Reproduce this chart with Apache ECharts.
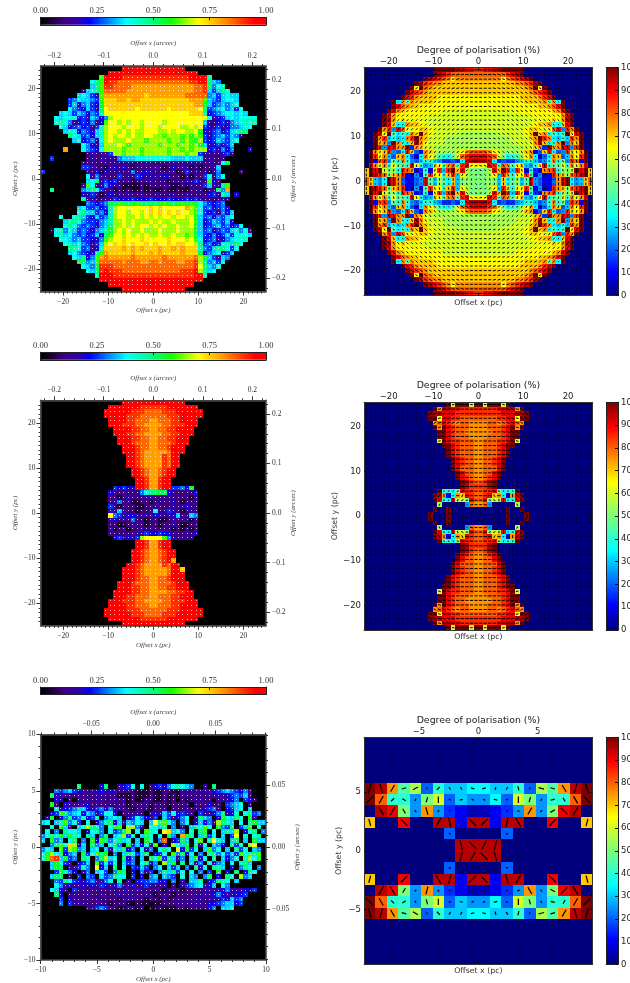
<!DOCTYPE html>
<html><head><meta charset="utf-8">
<style>html,body{margin:0;padding:0;background:#fff}#c{width:630px;height:983px}</style>
<script src="https://cdn.jsdelivr.net/npm/echarts@6/dist/echarts.min.js"></script></head>
<body><div id="c"></div>
<script>
// Cell codes: '.' empty, then 0-9 a-k = 0, 5, 10 ... 100 per cent of the colour scale.
const panel1Rows = [
"..................kkkkkkk kkkkkkk..................",
"...............jkkkkkkkkk kkkkkkkkkj...............",
".............cjkjjiiiiiii iiiiiiiijjkk9............",
"...........8acjiihhhhhhhh hhhhhhhhiijka76..........",
"...........7aciihhhhggggg ggggggggghhia689.........",
".........378achhhhhgggggg ggggggggghhi757a8........",
"........78753cgggggggggfg ggggggghhhhh6757877......",
"......5687765cfffggfggfff ffffffffgggc7657887......",
"......5746754bfffffffffff fffffffffggb7567678......",
"......8654753aeffffffefff fffeffffffea56786758.....",
"....78757646 59eeeeeeeeeee eeeeeeeefff9456788787....",
"...87888453764 6deeeeeeeeee eeeeeeeeeee83457878898...",
"...89863454624 ceededeedee eedeeeeeeee732453678989..",
"....874564525 9deeedeeedee edeeeeddede54352466788...",
".....79846547 9deedededdee eddedeeddeb4356457 9aa....",
"......a875647 9dedeededdee ddcdddcdbdc535675762.....",
".......784563 8dedddedddcd dddcddcdcbd54576578......",
".........8643 7dddedcddddd dcdddcddcdb7345357.......",
".....g...8654 8ddddcdddcdd dddcddcdcddd453646...4...",
"..........23232 5ddcdddcdd dddcdddcdd53232453.......",
"..5.......232333367778888 88887778777 23323.........",
".........3232232323322232 222323223232322 8b........",
".........55322134242122 2 232124233131223 7.........",
"5.........32414 3232362342 3222312523 2313 6....2......",
"..........83632 2252325434 2343221313 25826 8.........",
"..........78a35 4522312232 3221232425 32c42 ..........",
".........3c823 64 231111212 222311213 235723 ac........",
"..a......67a85 2 3 121211212 112112112 2312 3a6g ........",
".........43531 24 232322322 232232232 232453 97 .4......",
".........a3 3223 3 544454445 444544454 532323 32 ........",
"..........65456 b acbabcaab abcbabcbc b 8 65456 .........",
"........7855645 9 deeeeeeef efeeeeegd c8 564564 ........",
"........8a77564 9 deedeedef efefefeed c8 5453647 .......",
"....8..8a754756 9 deeddeded edeedeede b7 5646578 .......",
".....79a8655467 9 ddededdde deddeddde c7 4576574 .......",
".....8a86565467 a ddededeed ededdedde b7 45675645 8.....",
"..1896875654679 b dededdedd dedddeddd b7 56456578682...",
"...89786564574a c eedededed deddeddcd b7 54645758987...",
"....8876755436c d eefeeefee eeefeeede c8 4563467889....",
".....897865357d e fefefeefe feefeffee da 5645897a8.....",
"......a9856349f f ffgfgfgff fgffgfgff f9 6579a858......",
"......786544acg f ffffgfffg fgffffgff fb 4678357.......",
".......87a46cgh g gggghgggg gghgggggg hd b75376........",
"........ba67chh h hhghhhggh hghhhgghh id 96758.........",
".........876biii hhhhhhhhh hhhhhhhhh ie a768..........",
"..........87aiji iihhhhhhh hhhhhhiii jd 978...........",
"............9jjj iiiiiiiii iiiiiiiii jk9.............",
".............kkk jjjjjjjjj jjjjjjjjj kk..............",
"...............k kkkkkkkkk kkkkkkkkk ................",
"..................kkkkkkk kkkkkkk.................."
];
const panel3Rows = [
"kkkjjjjjjjjkkk","kkkjjjjiiiiiijjjjkkk","kkkjjjiiihhhhiiijjjkkk","kkkjjiiihhhhhhiiijjkkk",
"kkjjiihhhgghhhiijjkk","kkjiiihhgggghhiiijkk","kkjjiihhgghhiijjkk","kkjiihhgggghhiijkk",
"kkjiihhgghhiijkk","kkjihhhgghhhijkk","kjjihhgghhijjk","kjjihggggghjjk",
"kjihggggihjk","kjihggggihjk","kkihggggihkk","kjihgghijk","kjihgghijk","kjiggijk","kjiggijk",
"54544kjiggijk5564b",
"422232268aaba4322224","22123222332223222213","23623112212322421222","52122211223222323423",
"32732212238235331232","e6534432324423473276","34232622122112322313","22112322122122321122",
"31221223332232121312","22222233544544322324",
"453435deeeec632323",
"kkiggikk","kkiggikk","kjihgghijk","kjihgghijk",".kjihgghijg","kjihggggihjk",
"kkjihggggghjjf","kkjihggggghjjk","kjjihhgghhijjk","kkjihhhgghhhijkk","kkjiihhgghhiijkk",
"kkjjiihhgggghhiijj","kkjiihhhgghhhiijkk","kkjiiihhgggghhiiijkk","kkjjiihhhgghhhiijjkk",
"kkkjjiiihhhhhhiiijjkkk","kkkjjjiiihhhhiiijjjkkk","kkkjjjjiiiiiijjjjkkk","kkkjjjjjjjjkkk"
];
const panel5FirstRow = 11;
const panel5Rows = [
"........a....4a..3458.8.2454689876..3.a...........",
"...65675432344343222211121122113223332456765463...",
"..a33322323233222111211121121212323223332456572...",
"...43.2.3222332232312.12211212.2132322.33346.542..",
"..b2.4323342322322312223122212222.322422.5678.3...",
"...9445677445646332212221223.22232234563.4578.7...",
"..45ca67847635884.22332.3437584533.52246a349.8a56.",
".3b.46a568459.6787.3586425.752468.2a76.4b87a8.b3..",
"78.79c685.8.469a4727687.7e9c86.68.47463da97.8.9b77",
"..8.b73.78da96.8bc.dd63.8879.6.2.7a8c8.b65a.57c.9.",
".8.6.a887.4896.856ad.8.c98.ef786.9.ac.8.7a7d.48a.6",
"68a9b7b98.a7.6a.78d59.7a8.8.a6.gb9.7a58.7.5e.9.8a.",
"7.b67.8a.6.b4ca68a78.7.b8.6h.45a7.8c.9e87.7a.7.b77",
"..6ac8fd47.a67.8a6.b57482c.4.d87b.a38.764.a59.de..",
"687.c5dc67.78.7397a46.836.8a8.e4b58.7c68.7.a58.76.",
"8bd8a467.b58cab.6.7a857a.458.c6a48.6.9a68575c89ac.",
"8chi7b56.a8.6ad78.a46.7.a8c5a736.7b48.9.7468.9d8b.",
"..7b853.457.c5859.756.8a46.d7b.a.736.8367.8.9a7...",
"..7ba.32596.e47.a.8.5475.68.757.6.a38.a97.4.6a8.6.",
"...5b964.36.785.6ba.4.635.697a58.8.6.5.b.4.a.4a8..",
"..7aa.2.5.65.756a88.5.4.67.765.8.76.6a.4.a8.d67...",
"...65a8543563368.9.3.4556644.6.3.779.45a98.7......",
"...8634234343542462342352323.2.35678347.86........",
"..8743.52322322322332332232123212222333346433445..",
"...a4.2322322322332332232123212222333346433445....",
"....5.43222232222132322122121232323323235 4756....",
"....6.53332232212231.211.11222323233244567745.....",
"..........2356522113213.113111221322246.778......."
];
const panel2ValueRows = [
"kkkkkjjiih","kjihgggggg","kjihgfdfffff","kjhgffeeeeeeee","kdkgfeeeeeeeeee","kihgfeeeeeeeeeee",
"kihfeeeeddddddddd","k7f9feeeedddddddddd","kigfeeddddddddddddd","kifeddddddddcccccccc",
"kifdddddddccccccccccc","kjfdedcdccccccccccccc","kie78feeddccccccccccc","kfh5igdcdeedcccccccccc",
"kidk9797fekedcccccc bbbb","kfh6867fhkfeccccbbbbbbb","kef5kf87ejfdcccbbbbbbbb","kh5iiffj3feccbbbbbbbbbb",
"kfdeh547he42fecbbbbcdfgg","khdf64ef7427fdb987acghii","k2gh5a8f8546886533437ijj","ifcf8da98id856ed9fg9hidd",
"ekikcab8hgf2382dh6hkeibaa","ekjhgaefh21529hdd8eh6dbaa","ge657kif42245i96b97e6abaa"
];
// Angle codes: a=0 deg, b=15 ... l=165 deg from the x axis.
const panel2AngleRows = [
"bbbbbbbaaa","bbbbbbbaaa","cccbbbbbbaaa","cccccbbbbbbaaa","cccccccbbbbbaaa","dcccccccbbbbbaaa",
"dddccccccbbbbbbaa","ddddddccccccbbbbbaa","ddddddccccccbbbbbaa","ddddddddccccccbbbbaa",
"eeddddddddcccccbbbbaa","eeeddddddddccccbbbbaa","eeeeeddddddcccccbbbaa","eeeeeeeddddddccccbbbaa",
"eeeeeeeeeddddddccccbbba","eeeeeeeeeeedddddcccbbba","fffeeeeeeeeedddddcccbba","fffffeeeeeeeeddddcccbba",
"fffffffffeeeeeeedddccbba","fffffffffffeeeeeedddccba","fffffffffffffeeeeedddcba","ffffffffffffffffeeeddccb",
"ggggggfffffffffffffeeedcb","ggggggggggggggfffffffeedb","gggggggggggggggggggggfffd"
];
const panel4ValueRows = [
"kckkkck","kfjjiihhhh","kjjiiihhhhh","kkdiihhgggg","fgihgfggff","kfkihgggff","kkihggfff","kkihgggff","ckihhgggf",
"kkihgggf","kihgggf","kihgggf","kihggf","kihggf","kigggf","kiggf","kihgf","kjhg","kjhh",
"k887aihhg","kjf27feihg","ki87ibcaig","b.....5gf","k..k......","k...k......"
];
const panel4AngleRows = [
"bbaaaaa","cbbbaaaaaa","ccbbbbaaaaa","ccbbbbaaaaa","cbbbbbaaaa","cbbbaaaaaa","cbbbaaaaa","bbbaaaaaa","bbbaaaaaa",
"bbbaaaaa","bbaaaaa","baaaaaa","baaaaa","baaaaa","aaaaaa","aaaaa","aaaaa","aaaa","aaaa",
"bcbcbbaaa","cdgbaaeaaa","cdaegfcbaa","e.....cba","e..e......","e...e......"
];
const panel6ValueRows = [
"....................","....................","....................","....................",
"kjf9b4866776684b9fjk","kg885ac465574ca588gk",".jia5f53211235f5aij.","e..i..jj2jj2jj..i..e",
".......4....4.......","........jjjj........","........jjjj........",".......4....4.......",
"e..i..jj2jj2jj..i..e",".jia5f53211235f5aij.","kg885ac465574ca588gk","kjf9b4866776684b9fjk",
"....................","....................","....................","...................."
];
const panel6AngleRows = [
"aaaaaaaaaaaaaaaaaaaa","aaaaaaaaaaaaaaaaaaaa","aaaaaaaaaaaaaaaaaaaa","aaaaaaaaaaaaaaaaaaaa",
"fhebcfdiilbfehflliFh".toLowerCase(),"dedkefglbkklbgfebiij","aieijhdjdaaddledcjea","haajaaehijdefiaadaaf",
"aaaaaaakaaaabaaaaaaa","aaaaaaaahjefaaaaaaaa","aaaaaaaafejhaaaaaaaa","aaaaaaabaaaakaaaaaaa",
"faadaaifedjiheaajaah","aeiedfjdjaajjbijkdia","jijcihgblccblghileed","hfilkhjeeblhifhbbehf",
"aaaaaaaaaaaaaaaaaaaa","aaaaaaaaaaaaaaaaaaaa","aaaaaaaaaaaaaaaaaaaa","aaaaaaaaaaaaaaaaaaaa"
];
const fractionTicks = [0, 0.25, 0.5, 0.75, 1];
const percentTicks = [0,10,20,30,40,50,60,70,80,90,100];
const pcWide = [-20,-10,0,10,20];
const pcNarrow = [-10,-5,0,5,10];
const pcMid = [-5,0,5];
const arcsecWide = [-0.2,-0.1,0,0.1,0.2];
const arcsecNarrow = [-0.05,0,0.05];
const titlePol = 'Degree of polarisation (%)';

const CODES = '0123456789abcdefghijk';
const fractionStops = [[0,'#000000'],[0.05,'#1e0038'],[0.1,'#3c0080'],[0.17,'#3000b0'],[0.22,'#0000ff'],[0.3,'#0080ff'],[0.38,'#00ffff'],[0.5,'#00ff78'],[0.58,'#10ff00'],[0.7,'#ffff00'],[0.8,'#ffa000'],[0.9,'#ff3000'],[0.95,'#ff0000'],[1,'#ff0000']];
const jetStops = [[0,'#00007f'],[0.11,'#0000ff'],[0.35,'#00ffff'],[0.5,'#7cff79'],[0.65,'#ffff00'],[0.89,'#ff0000'],[1,'#7f0000']];
function hex(c){return [1,3,5].map(i=>parseInt(c.substr(i,2),16));}
function colour(stops,v){
  for(let i=1;i<stops.length;i++){ if(v<=stops[i][0]){
    const a=stops[i-1],b=stops[i],t=(v-a[0])/(b[0]-a[0]),p=hex(a[1]),q=hex(b[1]);
    return 'rgb('+p.map((x,k)=>Math.round(x+(q[k]-x)*t)).join(',')+')';
  }}
  return stops[stops.length-1][1];
}
function code(ch){const i=CODES.indexOf(ch);return i<0?null:i*0.05;}
function clean(r){return r.replace(/\s/g,'');}
function centre(r,n){r=clean(r);if(r.length>n)r=r.slice(0,n);const l=Math.floor((n-r.length)/2);return '.'.repeat(l)+r+'.'.repeat(n-r.length-l);}
function steps(a,b,s){const o=[];const n=Math.round((b-a)/s);for(let i=0;i<=n;i++)o.push(+(a+i*s).toFixed(4));return o;}
function inRange(list,a,b){return list.filter(v=>v>a&&v<b);}
function minusText(s){return String(s).replace('-','\u2212');}

const grids=[],xAxes=[],yAxes=[],series=[];
const SERIF='"Liberation Serif","DejaVu Serif",serif', SANS='"DejaVu Sans",sans-serif';

function addGrid(x,y,w,h,bg){grids.push({left:x,top:y,width:w,height:h,show:!!bg,backgroundColor:bg||'transparent',borderWidth:0,containLabel:false,outerBoundsMode:'none'});return grids.length-1;}
function axis(gi,pos,min,max,o){
  const a=Object.assign({gridIndex:gi,type:'value',position:pos,min,max,splitLine:{show:false},z:6,silent:true,axisLine:{onZero:false,show:false},axisTick:{show:false},axisLabel:{show:false}},o||{});
  ((pos==='top'||pos==='bottom')?xAxes:yAxes).push(a);
  return ((pos==='top'||pos==='bottom')?xAxes:yAxes).length-1;
}
function leftAxis(gi,pos,min,max,ticks,fmt,name,gap,len,margin){
  return axis(gi,pos,min,max,{
    axisLine:{onZero:false,show:true,lineStyle:{color:'#444',width:1.5}},
    axisTick:{show:true,length:len,customValues:ticks,lineStyle:{color:'#333',width:1}},
    axisLabel:{show:true,customValues:ticks,margin:margin,fontFamily:SERIF,fontSize:7.5,color:'#333',formatter:v=>minusText(fmt(v))},
    name:name,nameLocation:'middle',nameGap:gap,nameRotate:(pos==='left'||pos==='right')?90:0,
    nameTextStyle:{fontFamily:SERIF,fontStyle:'italic',fontSize:7,color:'#444'}
  });
}
function minorAxis(gi,pos,min,max,vals){
  return axis(gi,pos,min,max,{axisTick:{show:true,length:2,customValues:vals,lineStyle:{color:'#333',width:1}}});
}
function cellSeries(xi,yi,cells,stops,mode){
  series.push({type:'custom',coordinateSystem:'cartesian2d',xAxisIndex:xi,yAxisIndex:yi,silent:true,animation:false,progressive:0,clip:false,z:2,
    encode:{x:[0,2],y:[1,3]},data:cells,
    renderItem(params,api){
      const a=api.coord([api.value(0),api.value(1)]),b=api.coord([api.value(2),api.value(3)]);
      const v=api.value(4),ang=api.value(5);
      const x0=Math.round(a[0]),y0=Math.round(a[1]),x1=Math.round(b[0]),y1=Math.round(b[1]);
      const kids=[{type:'rect',shape:{x:x0,y:y0,width:x1-x0,height:y1-y0},style:{fill:colour(stops,v)}}];
      const cx=(a[0]+b[0])/2,cy=(a[1]+b[1])/2;
      if(mode==='dot'){
        kids.push({type:'rect',shape:{x:Math.floor(cx),y:Math.floor(cy),width:1,height:1},style:{fill:'rgba(255,255,255,0.7)'}});
      } else {
        const len=Math.max(1,(b[0]-a[0])*v*0.92)/2,t=ang*Math.PI/180;
        kids.push({type:'line',shape:{x1:cx-Math.cos(t)*len,y1:cy+Math.sin(t)*len,x2:cx+Math.cos(t)*len,y2:cy-Math.sin(t)*len},style:{stroke:'#000',lineWidth:mode==='bigline'?1.2:1}});
      }
      return {type:'group',children:kids};
    }});
}
function buildCells(rows,angleAt,xmin,xmax,ymin,ymax,n,fillEmpty){
  const dx=(xmax-xmin)/n,dy=(ymax-ymin)/n,out=[];
  rows.forEach((row,r)=>{ for(let c=0;c<n;c++){
    let v=code(row[c]);
    if(v===null){ if(!fillEmpty) continue; v=0; }
    out.push([xmin+c*dx,ymax-r*dy,xmin+(c+1)*dx,ymax-(r+1)*dy,v,angleAt?angleAt(r,c):0]);
  }});
  return out;
}
function topBar(top){
  const gi=addGrid(40.5,top,225.5,7.5);
  const xi=axis(gi,'top',0,1,{
    axisLine:{onZero:false,show:true,lineStyle:{color:'#222',width:1}},
    axisTick:{show:true,inside:true,length:3,customValues:fractionTicks,lineStyle:{color:'#222'}},
    axisLabel:{show:true,customValues:fractionTicks,margin:2,fontFamily:SERIF,fontSize:8.5,color:'#333',formatter:v=>v.toFixed(2)}});
  const yi=axis(gi,'left',0,1,{axisLine:{onZero:false,show:true,lineStyle:{color:'#222',width:1}}});
  axis(gi,'bottom',0,1,{axisLine:{onZero:false,show:true,lineStyle:{color:'#222',width:1}}});
  axis(gi,'right',0,1,{axisLine:{onZero:false,show:true,lineStyle:{color:'#222',width:1}}});
  series.push({type:'custom',coordinateSystem:'cartesian2d',xAxisIndex:xi,yAxisIndex:yi,silent:true,animation:false,z:2,encode:{x:[0,2],y:[1,3]},data:[[0,0,1,1]],
    renderItem(p,api){const a=api.coord([api.value(0),api.value(1)]),b=api.coord([api.value(2),api.value(3)]);
      return {type:'rect',shape:{x:a[0],y:b[1],width:b[0]-a[0],height:a[1]-b[1]},
        style:{fill:new echarts.graphic.LinearGradient(0,0,1,0,fractionStops.map(s=>({offset:s[0],color:s[1]})))}};}});
}
function sideBar(top,h){
  const gi=addGrid(606.3,top,11.7,h);
  const yi=axis(gi,'right',0,100,{
    axisLine:{onZero:false,show:true,lineStyle:{color:'#222',width:1}},
    axisTick:{show:true,inside:true,length:3,customValues:percentTicks,lineStyle:{color:'#111'}},
    axisLabel:{show:true,customValues:percentTicks,margin:3,fontFamily:SANS,fontSize:8.5,color:'#222',formatter:v=>String(v)}});
  const xi=axis(gi,'bottom',0,1,{axisLine:{onZero:false,show:true,lineStyle:{color:'#222',width:1}}});
  axis(gi,'top',0,1,{axisLine:{onZero:false,show:true,lineStyle:{color:'#222',width:1}}});
  axis(gi,'left',0,100,{axisLine:{onZero:false,show:true,lineStyle:{color:'#222',width:1}}});
  series.push({type:'custom',coordinateSystem:'cartesian2d',xAxisIndex:xi,yAxisIndex:yi,silent:true,animation:false,z:2,encode:{x:[0,2],y:[1,3]},data:[[0,0,1,100]],
    renderItem(p,api){const a=api.coord([api.value(0),api.value(1)]),b=api.coord([api.value(2),api.value(3)]);
      return {type:'rect',shape:{x:a[0],y:b[1],width:b[0]-a[0],height:a[1]-b[1]},
        style:{fill:new echarts.graphic.LinearGradient(0,1,0,0,jetStops.map(s=>({offset:s[0],color:s[1]})))}};}});
}
function leftPanel(top,rows,pc,pcT,arcT,arc,arcDigits,pcStep,arcStep){
  const W=225.5,H=225.5,X=40.5;
  const gi=addGrid(X,top,W,H,'#000');
  const xb=leftAxis(gi,'bottom',-pc,pc,pcT,v=>v,'Offset x (pc)',15,4,6.5);
  const yl=leftAxis(gi,'left',-pc,pc,pcT,v=>v,'Offset y (pc)',22,4,5);
  leftAxis(gi,'top',-arc,arc,arcT,v=>v.toFixed(arcDigits),'Offset x (arcsec)',19,4,6);
  leftAxis(gi,'right',-arc,arc,arcT,v=>v.toFixed(arcDigits),'Offset y (arcsec)',20,4,6);
  const g2=addGrid(X,top,W,H);
  minorAxis(g2,'bottom',-pc,pc,inRange(steps(-pc,pc,pcStep),-pc,pc));
  minorAxis(g2,'left',-pc,pc,inRange(steps(-pc,pc,pcStep),-pc,pc));
  const kk=Math.ceil(arc/arcStep);
  minorAxis(g2,'top',-arc,arc,inRange(steps(-kk*arcStep,kk*arcStep,arcStep),-arc,arc));
  minorAxis(g2,'right',-arc,arc,inRange(steps(-kk*arcStep,kk*arcStep,arcStep),-arc,arc));
  cellSeries(xb,yl,buildCells(rows,null,-pc,pc,-pc,pc,50,false),fractionStops,'dot');
}
function rightPanel(top,h,rows,angleAt,half,ticks,n,mode){
  const X=364,W=228.7;
  const gi=addGrid(X,top,W,h,'#00007f');
  const mk=(pos,labels,o)=>axis(gi,pos,-half,half,Object.assign({
    axisLine:{onZero:false,show:true,lineStyle:{color:'#333',width:1}},
    axisTick:{show:true,inside:true,length:3,customValues:ticks,lineStyle:{color:'#111'}},
    axisLabel:{show:labels,customValues:ticks,margin:labels&&pos==='top'?1.5:3,fontFamily:SANS,fontSize:8.5,color:'#222',formatter:v=>minusText(v)}},o||{}));
  const nameStyle={fontFamily:SANS,fontSize:7.8,color:'#333'};
  const xb=mk('bottom',false,{name:'Offset x (pc)',nameLocation:'middle',nameGap:3,nameTextStyle:nameStyle});
  const yl=mk('left',true,{name:'Offset y (pc)',nameLocation:'middle',nameGap:21,nameRotate:90,nameTextStyle:nameStyle});
  mk('top',true,{name:titlePol,nameLocation:'middle',nameGap:12.5,nameTextStyle:{fontFamily:SANS,fontSize:9.4,color:'#222'}});
  mk('right',false);
  cellSeries(xb,yl,buildCells(rows,angleAt,-half,half,-half,half,n,true),jetStops,mode);
  sideBar(top,h);
}
function mirrorRows(q){const top=q.map(r=>{const s=clean(r).padStart(25,'.');return s+s.split('').reverse().join('');});return top.concat(top.slice().reverse());}
function quadAngles(q){const p=q.map(r=>clean(r).padStart(25,'.'));
  return (r,c)=>{const rr=r<25?r:49-r,cc=c<25?c:49-c,i=p[rr].charCodeAt(cc)-97,d=(i>=0&&i<12)?i*15:0;return ((c>=25)!==(r>=25))?-d:d;};}
function plainAngles(rows){return (r,c)=>{const i=rows[r].charCodeAt(c)-97;return (i>=0&&i<12)?i*15:0;};}

// top row
topBar(17.3);
leftPanel(66,panel1Rows.map(r=>centre(r,50)),25,pcWide,arcsecWide,0.2275,1,1,0.02);
rightPanel(67.7,228,mirrorRows(panel2ValueRows),quadAngles(panel2AngleRows),25.5,pcWide,50,'line');
// middle row
topBar(352.3);
leftPanel(400.3,panel3Rows.map(r=>centre(r,50)),25,pcWide,arcsecWide,0.2275,1,1,0.02);
rightPanel(402.3,227.7,mirrorRows(panel4ValueRows),quadAngles(panel4AngleRows),25.5,pcWide,50,'line');
// bottom row
topBar(687);
const p5=[];for(let i=0;i<50;i++){const k=i-panel5FirstRow;p5.push(centre(k>=0&&k<panel5Rows.length?panel5Rows[k]:'',50));}
leftPanel(734.5,p5,10,pcNarrow,arcsecNarrow,0.0907,2,1,0.01);
rightPanel(737.3,227,panel6ValueRows,plainAngles(panel6AngleRows),9.63,pcMid,20,'bigline');

const chart=echarts.init(document.getElementById('c'),null,{renderer:'canvas'});
chart.setOption({animation:false,backgroundColor:'#fff',grid:grids,xAxis:xAxes,yAxis:yAxes,series:series});
</script></body></html>
